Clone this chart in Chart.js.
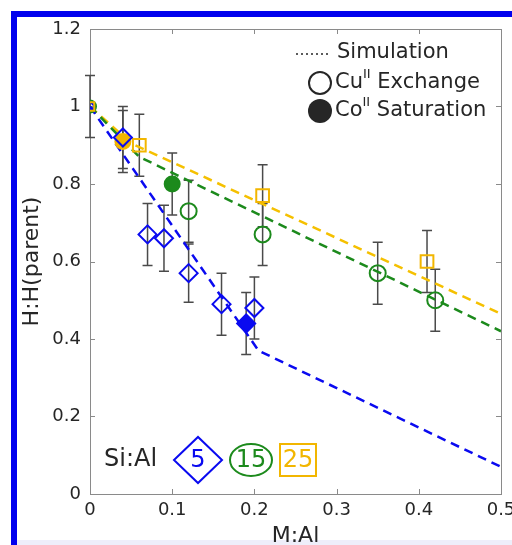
<!DOCTYPE html>
<html>
<head>
<meta charset="utf-8">
<script src="https://cdn.jsdelivr.net/npm/chart.js@4"></script>
<style>
  html, body { margin: 0; padding: 0; background: #fff; }
  #page { position: relative; width: 512px; height: 545px; overflow: hidden; background: #fff; }
  #frame { position: absolute; left: 11px; top: 11px; right: 0; bottom: 0; border-left: 6px solid #0000ee; border-top: 6px solid #0000ee; }
  #foot { position: absolute; left: 17px; right: 0; bottom: 0; height: 5px; background: #eeeefa; }
  #wrap { position: absolute; left: 0; top: 0; width: 512px; height: 545px; }
</style>
</head>
<body>
<div id="page">
  <div id="frame"></div>
  <div id="foot"></div>
  <div id="wrap"><canvas id="chart"></canvas></div>
</div>
<script>
// axis ticks
const xTicks = [0, 0.1, 0.2, 0.3, 0.4, 0.5];
const yTicks = [0, 0.2, 0.4, 0.6, 0.8, 1, 1.2];

// parent point (all three Si:Al ratios)
const startX = [0];
const startY = [1.0];
const startErr = [0.08];

// Si:Al = 5
const blueX = [0.04, 0.07, 0.09, 0.12, 0.16, 0.20];
const blueY = [0.92, 0.67, 0.66, 0.57, 0.49, 0.48];
const blueErr = [0.08, 0.08, 0.085, 0.075, 0.08, 0.08];
const blueCoX = [0.19];
const blueCoY = [0.44];
const blueCoErr = [0.08];
const blueSimX = [0, 0.205, 0.5];
const blueSimY = [1.0, 0.37, 0.07];

// Si:Al = 15
const greenX = [0.12, 0.21, 0.35, 0.42];
const greenY = [0.73, 0.67, 0.57, 0.50];
const greenErr = [0.08, 0.08, 0.08, 0.08];
const greenCoX = [0.10];
const greenCoY = [0.80];
const greenCoErr = [0.08];
const greenSimX = [0, 0.06, 0.5];
const greenSimY = [1.0, 0.87, 0.42];

// Si:Al = 25
const yellowX = [0.06, 0.21, 0.41];
const yellowY = [0.90, 0.77, 0.60];
const yellowErr = [0.08, 0.08, 0.08];
const yellowCoX = [0.04];
const yellowCoY = [0.91];
const yellowCoErr = [0.08];
const yellowSimX = [0, 0.05, 0.5];
const yellowSimY = [1.0, 0.905, 0.465];

const BLUE = '#0a0af0';
const GREEN = '#1c8a1c';
const YELLOW = '#f2b600';
const TEXT = '#262626';
const FONT = '"DejaVu Sans", sans-serif';

const pts = (xs, ys) => xs.map((x, i) => ({ x, y: ys[i] }));

function simLine(xs, ys, color) {
  return {
    type: 'line',
    data: pts(xs, ys),
    borderColor: color,
    borderWidth: 2.5,
    borderDash: [9, 6],
    pointRadius: 0,
    fill: false,
    tension: 0,
    order: 10,
  };
}

function markers(xs, ys, color, style, radius, filled) {
  return {
    data: pts(xs, ys),
    pointStyle: style,
    pointRadius: radius,
    pointBorderWidth: 2,
    pointBorderColor: color,
    pointBackgroundColor: filled ? color : 'rgba(0,0,0,0)',
    order: 1,
  };
}

const errorSets = [
  [startX, startY, startErr],
  [blueX, blueY, blueErr],
  [blueCoX, blueCoY, blueCoErr],
  [greenX, greenY, greenErr],
  [greenCoX, greenCoY, greenCoErr],
  [yellowX, yellowY, yellowErr],
  [yellowCoX, yellowCoY, yellowCoErr],
];

const errorBars = {
  id: 'errorBars',
  beforeDatasetsDraw(chart) {
    const { ctx, scales: { x, y } } = chart;
    ctx.save();
    ctx.strokeStyle = '#4a4a4a';
    ctx.lineWidth = 1.5;
    for (const [xs, ys, es] of errorSets) {
      xs.forEach((v, i) => {
        const px = x.getPixelForValue(v);
        const top = y.getPixelForValue(ys[i] + es[i]);
        const bot = y.getPixelForValue(ys[i] - es[i]);
        ctx.beginPath();
        ctx.moveTo(px, top); ctx.lineTo(px, bot);
        ctx.moveTo(px - 5, top); ctx.lineTo(px + 5, top);
        ctx.moveTo(px - 5, bot); ctx.lineTo(px + 5, bot);
        ctx.stroke();
      });
    }
    ctx.restore();
  },
};

// MATLAB-like box with inward tick marks
const axisBox = {
  id: 'axisBox',
  beforeDatasetsDraw(chart) {
    const { ctx, chartArea: a, scales: { x, y } } = chart;
    ctx.save();
    ctx.strokeStyle = '#8a8a8a';
    ctx.lineWidth = 1;
    ctx.strokeRect(a.left + 0.5, a.top + 0.5, a.right - a.left, a.bottom - a.top);
    ctx.beginPath();
    xTicks.forEach(v => {
      const px = Math.round(x.getPixelForValue(v)) + 0.5;
      ctx.moveTo(px, a.bottom); ctx.lineTo(px, a.bottom - 5);
      ctx.moveTo(px, a.top); ctx.lineTo(px, a.top + 5);
    });
    yTicks.forEach(v => {
      const py = Math.round(y.getPixelForValue(v)) + 0.5;
      ctx.moveTo(a.left, py); ctx.lineTo(a.left + 5, py);
      ctx.moveTo(a.right, py); ctx.lineTo(a.right - 5, py);
    });
    ctx.stroke();
    ctx.restore();
  },
};

function supText(ctx, x, y, parts) {
  // parts: [text, isSuperscript]
  let cx = x;
  for (const [t, sup] of parts) {
    ctx.font = (sup ? '13px ' : '21px ') + FONT;
    ctx.fillText(t, cx, sup ? y - 8 : y);
    cx += ctx.measureText(t).width;
  }
}

const annotations = {
  id: 'annotations',
  afterDraw(chart) {
    const { ctx, chartArea: a } = chart;
    ctx.save();
    ctx.fillStyle = TEXT;
    ctx.strokeStyle = TEXT;
    ctx.textBaseline = 'middle';

    // top-right key
    ctx.lineWidth = 1.5;
    ctx.setLineDash([2, 3]);
    ctx.beginPath();
    ctx.moveTo(296, 54); ctx.lineTo(329, 54);
    ctx.stroke();
    ctx.setLineDash([]);
    ctx.font = '21px ' + FONT;
    ctx.fillText('Simulation', 337, 53);

    ctx.lineWidth = 2;
    ctx.beginPath();
    ctx.arc(320, 83, 11, 0, Math.PI * 2);
    ctx.stroke();
    supText(ctx, 335, 83, [['Cu', false], ['II', true], [' Exchange', false]]);

    ctx.beginPath();
    ctx.arc(320, 111, 12, 0, Math.PI * 2);
    ctx.fill();
    supText(ctx, 335, 111, [['Co', false], ['II', true], [' Saturation', false]]);

    // Si:Al key bottom-left
    const cy = a.bottom - 34;
    ctx.font = '24px ' + FONT;
    ctx.fillStyle = TEXT;
    ctx.textAlign = 'left';
    ctx.fillText('Si:Al', 104, cy);

    ctx.textAlign = 'center';
    ctx.lineWidth = 2;
    ctx.strokeStyle = BLUE; ctx.fillStyle = BLUE;
    ctx.beginPath();
    ctx.moveTo(174, cy); ctx.lineTo(198, cy - 23); ctx.lineTo(222, cy); ctx.lineTo(198, cy + 23);
    ctx.closePath();
    ctx.stroke();
    ctx.fillText('5', 198, cy + 1);

    ctx.strokeStyle = GREEN; ctx.fillStyle = GREEN;
    ctx.beginPath();
    ctx.ellipse(251, cy, 21, 16, 0, 0, Math.PI * 2);
    ctx.stroke();
    ctx.fillText('15', 251, cy + 1);

    ctx.strokeStyle = YELLOW; ctx.fillStyle = YELLOW;
    ctx.strokeRect(280, cy - 16, 36, 32);
    ctx.fillText('25', 298, cy + 1);
    ctx.restore();
  },
};

const tickFmt = v => String(+Number(v).toFixed(2));

new Chart(document.getElementById('chart'), {
  type: 'scatter',
  data: {
    datasets: [
      simLine(blueSimX, blueSimY, BLUE),
      simLine(greenSimX, greenSimY, GREEN),
      simLine(yellowSimX, yellowSimY, '#f5c000'),
      markers(startX, startY, YELLOW, 'rect', 6, false),
      markers(startX, startY, GREEN, 'circle', 6, false),
      markers(startX, startY, BLUE, 'rectRot', 5, false),
      markers(blueX, blueY, BLUE, 'rectRot', 9, false),
      markers(blueCoX, blueCoY, BLUE, 'rectRot', 9, true),
      markers(greenX, greenY, GREEN, 'circle', 8, false),
      markers(greenCoX, greenCoY, GREEN, 'circle', 7.5, true),
      markers(yellowX, yellowY, YELLOW, 'rect', 9, false),
      markers(yellowCoX, yellowCoY, YELLOW, 'circle', 7.5, true),
    ],
  },
  options: {
    responsive: true,
    maintainAspectRatio: false,
    animation: false,
    layout: { padding: { top: 29, right: 9, left: 0, bottom: 0 } },
    plugins: { legend: { display: false }, tooltip: { enabled: false } },
    scales: {
      x: {
        type: 'linear',
        min: 0,
        max: 0.5,
        afterFit: s => { s.height = 51; s.paddingLeft = 0; s.paddingRight = 0; },
        afterBuildTicks: s => { s.ticks = xTicks.map(v => ({ value: v })); },
        ticks: { callback: tickFmt, color: TEXT, font: { family: FONT, size: 18 }, padding: 6, maxRotation: 0 },
        grid: { display: false, drawTicks: false },
        border: { display: false },
        title: { display: true, text: 'M:Al', color: TEXT, font: { family: FONT, size: 22 }, padding: { top: 0, bottom: -4 } },
      },
      y: {
        min: 0,
        max: 1.2,
        afterFit: s => { s.width = 90; s.paddingTop = 0; s.paddingBottom = 0; },
        afterBuildTicks: s => { s.ticks = yTicks.map(v => ({ value: v })); },
        ticks: { callback: tickFmt, color: TEXT, font: { family: FONT, size: 18 }, padding: 9 },
        grid: { display: false, drawTicks: false },
        border: { display: false },
        title: { display: true, text: 'H:H(parent)', color: TEXT, font: { family: FONT, size: 22 }, padding: { top: 19, bottom: 0 } },
      },
    },
  },
  plugins: [axisBox, errorBars, annotations],
});
</script>
</body>
</html>
